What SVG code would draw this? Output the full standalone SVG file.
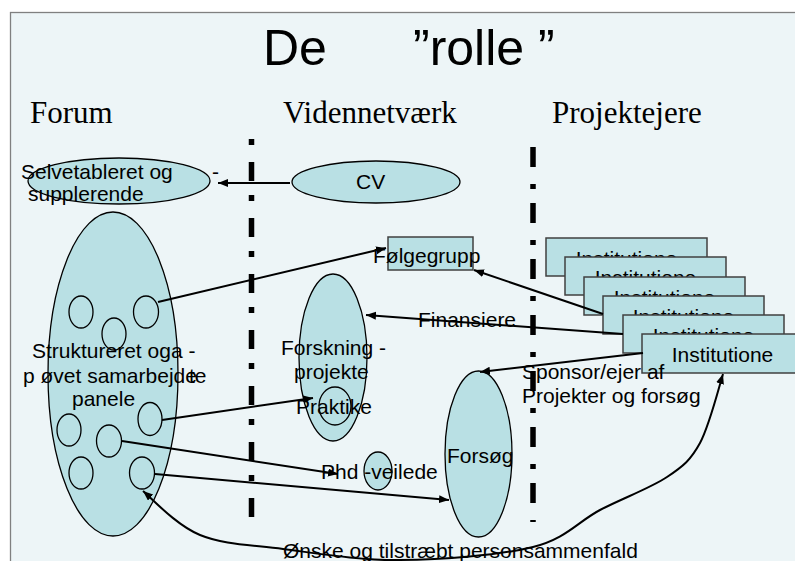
<svg xmlns="http://www.w3.org/2000/svg" width="795" height="561" viewBox="0 0 795 561">
<style>
  .lbl { font-family: "Liberation Sans", Arial, sans-serif; font-size: 21px; fill: #000; }
  .hdr { font-family: "Liberation Serif", "Times New Roman", serif; font-size: 31px; fill: #000; }
  .ttl { font-family: "Liberation Sans", Arial, sans-serif; font-size: 50px; fill: #000; }
  .node { fill: #B9E0E4; stroke: #000; stroke-width: 1.3; }
  .sub { fill: none; stroke: #000; stroke-width: 1.3; }
  .box { fill: #B9E0E4; stroke: #404040; stroke-width: 1.5; }
  .conn { fill: none; stroke: #000; stroke-width: 2; }
  .div { fill: none; stroke: #000; stroke-width: 5.5; }
</style>
<defs>
  <marker id="arr" markerUnits="userSpaceOnUse" markerWidth="11" markerHeight="9" refX="10" refY="4" orient="auto-start-reverse">
    <path d="M0,0 L10,4 L0,8 z" fill="#000"/>
  </marker>
</defs>
<rect x="0" y="0" width="795" height="561" fill="#FFFFFF"/>
<rect x="10.5" y="12.5" width="800" height="600" fill="#EDF5F7" stroke="#808080" stroke-width="1.3"/>

<g id="title">
  <text class="ttl" x="263" y="65">De</text>
  <text class="ttl" x="413" y="65">”rolle ”</text>
</g>
<g id="headers">
  <text class="hdr" x="30" y="123">Forum</text>
  <text class="hdr" x="283" y="123">Vidennetværk</text>
  <text class="hdr" x="552" y="123">Projektejere</text>
</g>
<g id="dividers">
  <line class="div" x1="251.5" y1="139" x2="251.5" y2="517" stroke-dasharray="6 17 19 14"/>
  <line class="div" x1="533" y1="147" x2="533" y2="522" stroke-dasharray="20 17 5 14"/>
</g>

<g id="selvetableret">
  <ellipse class="node" cx="119" cy="181" rx="91" ry="23"/>
  <text class="lbl" x="21" y="179">Selvetableret og</text>
  <text class="lbl" x="212" y="179">-</text>
  <text class="lbl" x="28" y="201">supplerende</text>
</g>
<g id="cv">
  <ellipse class="node" cx="376" cy="182" rx="84" ry="21"/>
  <text class="lbl" x="356" y="189">CV</text>
</g>
<g id="forum-panel">
  <ellipse class="node" cx="113" cy="374" rx="65" ry="162"/>
  <ellipse class="sub" cx="81" cy="312" rx="12" ry="16"/>
  <ellipse class="sub" cx="146" cy="312" rx="12.5" ry="16"/>
  <ellipse class="sub" cx="114" cy="334" rx="12" ry="16"/>
  <ellipse class="sub" cx="150" cy="419" rx="12" ry="16.5"/>
  <ellipse class="sub" cx="69" cy="430" rx="12" ry="16"/>
  <ellipse class="sub" cx="109" cy="441" rx="12.5" ry="16"/>
  <ellipse class="sub" cx="81" cy="473" rx="12" ry="16"/>
  <ellipse class="sub" cx="142" cy="473" rx="12.5" ry="16"/>
  <text class="lbl" x="32" y="358">Struktureret oga -</text>
  <text class="lbl" x="23" y="383">p øvet samarbejde</text>
  <text class="lbl" x="189" y="383">te</text>
  <text class="lbl" x="72" y="406">panele</text>
</g>
<g id="folgegrupp">
  <rect class="box" x="388" y="237" width="85" height="33"/>
  <text class="lbl" x="373" y="263">Følgegrupp</text>
</g>
<g id="forskning">
  <ellipse class="node" cx="333" cy="357.5" rx="34" ry="83.5"/>
  <ellipse class="node" cx="335" cy="406" rx="16" ry="19"/>
  <text class="lbl" x="281" y="355">Forskning -</text>
  <text class="lbl" x="294" y="379">projekte</text>
  <text class="lbl" x="296" y="414">Praktike</text>
</g>
<g id="phd">
  <ellipse class="node" cx="378" cy="471" rx="14" ry="19"/>
  <text class="lbl" x="321" y="479">Phd -veilede</text>
</g>
<g id="forsog">
  <ellipse class="node" cx="478.5" cy="454" rx="33.5" ry="83"/>
  <text class="lbl" x="447" y="463">Forsøg</text>
</g>
<g id="institutioner">
  <rect class="box" x="546" y="238" width="161" height="38"/>
  <text class="lbl" x="626.5" y="266" text-anchor="middle">Institutione</text>
  <rect class="box" x="565" y="257" width="161" height="38"/>
  <text class="lbl" x="645.5" y="285" text-anchor="middle">Institutione</text>
  <rect class="box" x="584" y="277" width="161" height="38"/>
  <text class="lbl" x="664.5" y="305" text-anchor="middle">Institutione</text>
  <rect class="box" x="603" y="296" width="161" height="38"/>
  <text class="lbl" x="683.5" y="324" text-anchor="middle">Institutione</text>
  <rect class="box" x="623" y="315" width="161" height="38"/>
  <text class="lbl" x="703.5" y="343" text-anchor="middle">Institutione</text>
  <rect class="box" x="642" y="334" width="161" height="39"/>
  <text class="lbl" x="722.5" y="362" text-anchor="middle">Institutione</text>
</g>

<g id="connectors">
  <path class="conn" d="M290,183 L218,183" marker-end="url(#arr)"/>
  <path class="conn" d="M158,302 L386,248" marker-end="url(#arr)"/>
  <path class="conn" d="M603,314 L474,270" marker-end="url(#arr)"/>
  <path class="conn" d="M623,334 L366,315" marker-end="url(#arr)"/>
  <path class="conn" d="M643,353 L480,372" marker-end="url(#arr)"/>
  <path class="conn" d="M162,420 L313,398" marker-end="url(#arr)"/>
  <path class="conn" d="M122,441 L338,474" marker-end="url(#arr)"/>
  <path class="conn" d="M155,474 L449,500" marker-end="url(#arr)"/>
  <path class="conn" stroke-width="1.8" d="M143,491 C152.5,499.2 176.7,525.5 200,535 C223.3,544.5 249.7,544.8 283,549 C316.3,553.2 358.3,560.3 400,560 C441.7,559.7 499.7,555.3 533,547 C566.3,538.7 577.7,521.7 600,510 C622.3,498.3 650.3,488.2 667,477 C683.7,465.8 690.7,460 700,443 C709.3,426 719.2,386.3 723,374" marker-start="url(#arr)" marker-end="url(#arr)"/>
  <text class="lbl" x="418" y="327">Finansiere</text>
  <text class="lbl" x="522" y="379">Sponsor/ejer af</text>
  <text class="lbl" x="522" y="403">Projekter og forsøg</text>
  <text class="lbl" x="283" y="558">Ønske og tilstræbt personsammenfald</text>
</g>
</svg>
